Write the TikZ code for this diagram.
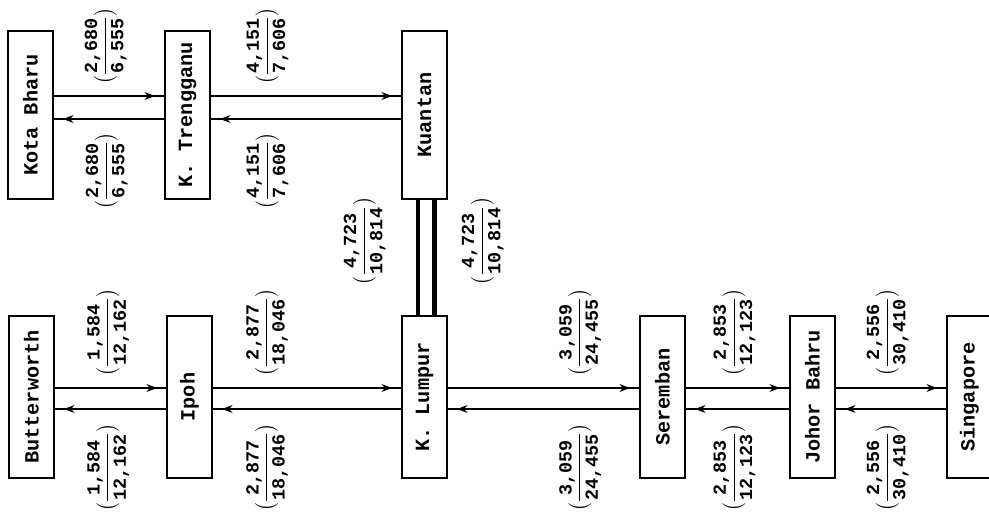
\documentclass[tikz,border=0pt]{standalone}
\usepackage{fontspec}
\usepackage{amsmath}
\setmonofont{Liberation Mono}
\usetikzlibrary{arrows.meta,positioning,decorations.markings}

\newcommand{\trips}[2]{\rotatebox{90}{\fontsize{10.5}{12}\selectfont$\bigl(\dfrac{\mbox{#1}}{\mbox{#2}}\bigr)$}}

\begin{document}
\begin{tikzpicture}[
    font=\ttfamily\bfseries\fontsize{11.5}{13}\selectfont,
    town/.style={rectangle, draw, line width=1.3pt, minimum width=0.9cm, inner sep=0pt, outer sep=0pt},
    toprow/.style={town, minimum height=3.36cm},
    lowrow/.style={town, minimum height=3.24cm},
    flow/.style={line width=0.6pt, postaction={decorate}, decoration={markings, mark=at position -0.2cm with {\arrow{Stealth[length=6pt,width=4.5pt]}}}},
    rail/.style={line width=2.6pt},
    count/.style={inner sep=0pt}
]
    \useasboundingbox (0,0) rectangle (19.78,10.3);

    \node[lowrow] (kl) at (8.49,2.36) {\rotatebox{90}{K. Lumpur}};
    \node[lowrow, left=3.8cm of kl] (ipoh) {\rotatebox{90}{Ipoh}};
    \node[lowrow, left=2.26cm of ipoh] (bw) {\rotatebox{90}{Butterworth}};
    \node[lowrow, right=3.86cm of kl] (ser) {\rotatebox{90}{Seremban}};
    \node[lowrow, right=2.1cm of ser] (jb) {\rotatebox{90}{Johor Bahru}};
    \node[lowrow, right=2.24cm of jb] (sing) {\rotatebox{90}{Singapore}};

    \node[toprow, above=2.34cm of kl] (kuantan) {\rotatebox{90}{Kuantan}};
    \node[toprow, left=3.84cm of kuantan] (kt) {\rotatebox{90}{K. Trengganu}};
    \node[toprow, left=2.24cm of kt] (kb) {\rotatebox{90}{Kota Bharu}};

    \draw[flow] ([yshift=0.38cm]kb.east) -- node[count, above=0.22cm, pos=0.47] (t1) {\trips{2,680}{6,555}} ([yshift=0.38cm]kt.west);
    \draw[flow] ([yshift=-0.08cm]kt.west) -- node[count, below=0.26cm, pos=0.52] (t2) {\trips{2,680}{6,555}} ([yshift=-0.08cm]kb.east);
    \draw[flow] ([yshift=0.38cm]kt.east) -- node[count, above=0.22cm, pos=0.3] (t3) {\trips{4,151}{7,606}} ([yshift=0.38cm]kuantan.west);
    \draw[flow] ([yshift=-0.08cm]kuantan.west) -- node[count, below=0.26cm, pos=0.7] (t4) {\trips{4,151}{7,606}} ([yshift=-0.08cm]kt.east);

    \draw[rail] ([xshift=-0.13cm]kuantan.south) -- node[count, left=0.6cm, pos=0.36] (t5) {\trips{4,723}{10,814}} ([xshift=-0.13cm]kl.north);
    \draw[rail] ([xshift=0.2cm]kuantan.south) -- node[count, right=0.5cm, pos=0.36] (t6) {\trips{4,723}{10,814}} ([xshift=0.2cm]kl.north);

    \draw[flow] ([yshift=0.18cm]bw.east) -- node[count, above=0.22cm, pos=0.48] (t7) {\trips{1,584}{12,162}} ([yshift=0.18cm]ipoh.west);
    \draw[flow] ([yshift=-0.24cm]ipoh.west) -- node[count, below=0.28cm, pos=0.52] (t8) {\trips{1,584}{12,162}} ([yshift=-0.24cm]bw.east);
    \draw[flow] ([yshift=0.18cm]ipoh.east) -- node[count, above=0.22cm, pos=0.29] (t9) {\trips{2,877}{18,046}} ([yshift=0.18cm]kl.west);
    \draw[flow] ([yshift=-0.24cm]kl.west) -- node[count, below=0.28cm, pos=0.71] (t10) {\trips{2,877}{18,046}} ([yshift=-0.24cm]ipoh.east);
    \draw[flow] ([yshift=0.18cm]kl.east) -- node[count, above=0.22cm, pos=0.69] (t11) {\trips{3,059}{24,455}} ([yshift=0.18cm]ser.west);
    \draw[flow] ([yshift=-0.24cm]ser.west) -- node[count, below=0.28cm, pos=0.31] (t12) {\trips{3,059}{24,455}} ([yshift=-0.24cm]kl.east);
    \draw[flow] ([yshift=0.18cm]ser.east) -- node[count, above=0.22cm, pos=0.47] (t13) {\trips{2,853}{12,123}} ([yshift=0.18cm]jb.west);
    \draw[flow] ([yshift=-0.24cm]jb.west) -- node[count, below=0.28cm, pos=0.53] (t14) {\trips{2,853}{12,123}} ([yshift=-0.24cm]ser.east);
    \draw[flow] ([yshift=0.18cm]jb.east) -- node[count, above=0.22cm, pos=0.47] (t15) {\trips{2,556}{30,410}} ([yshift=0.18cm]sing.west);
    \draw[flow] ([yshift=-0.24cm]sing.west) -- node[count, below=0.28cm, pos=0.53] (t16) {\trips{2,556}{30,410}} ([yshift=-0.24cm]jb.east);
\end{tikzpicture}
\end{document}
